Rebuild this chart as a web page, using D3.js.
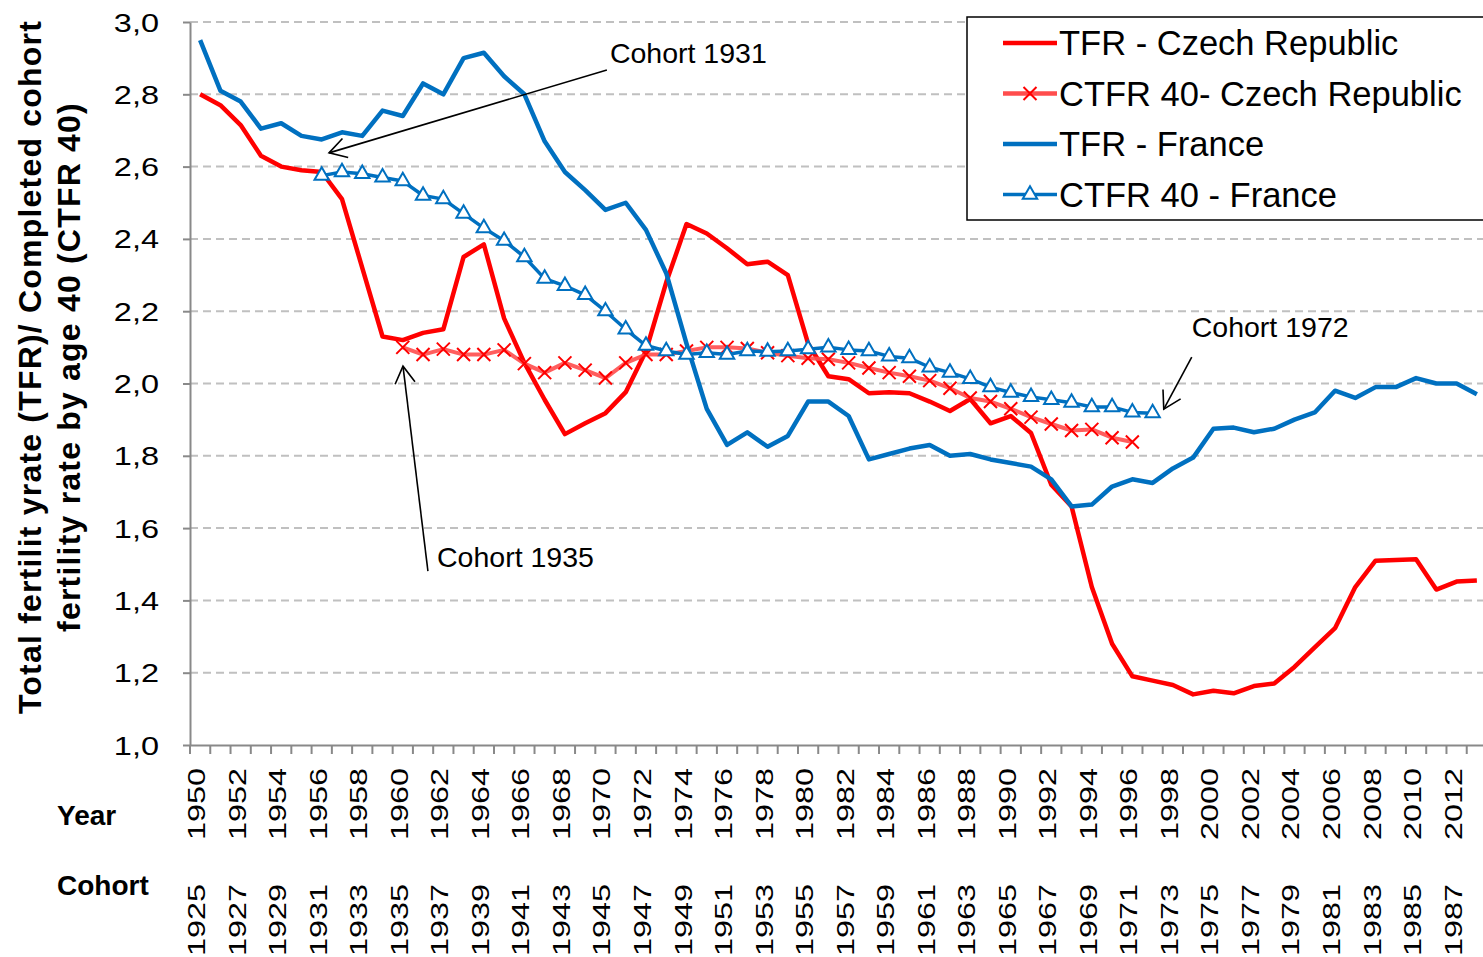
<!DOCTYPE html>
<html>
<head>
<meta charset="utf-8">
<script src="https://cdn.jsdelivr.net/npm/d3@7"></script>
<style>
body { margin: 0; background: #fff; }
text { font-family: "Liberation Sans", Arial, sans-serif; }
</style>
</head>
<body>
<svg id="chart" width="1483" height="957"></svg>
<script>
// years 1950-2013, cohorts = year - 25
var years = d3.range(1950, 2014);

var tfrCz = [2.80, 2.77, 2.715, 2.63, 2.60, 2.59, 2.585, 2.51, 2.32, 2.13,
    2.12, 2.14, 2.15, 2.35, 2.385, 2.18, 2.057, 1.955, 1.86, 1.89,
    1.918, 1.976, 2.09, 2.28, 2.441, 2.415, 2.374, 2.33, 2.337, 2.30,
    2.11, 2.02, 2.012, 1.973, 1.976, 1.973, 1.95, 1.924, 1.957, 1.89,
    1.91, 1.863, 1.72, 1.66, 1.437, 1.28, 1.19, 1.178, 1.166, 1.14,
    1.15, 1.143, 1.163, 1.17, 1.216, 1.27, 1.323, 1.437, 1.51, 1.512,
    1.514, 1.43, 1.452, 1.455];

var tfrFr = [2.95, 2.81, 2.78, 2.705, 2.72, 2.685, 2.675, 2.695, 2.685, 2.755,
    2.74, 2.83, 2.80, 2.90, 2.915, 2.85, 2.80, 2.67, 2.585, 2.535,
    2.48, 2.50, 2.425, 2.305, 2.11, 1.93, 1.83, 1.865, 1.825, 1.855,
    1.95, 1.95, 1.91, 1.79, 1.805, 1.82, 1.83, 1.80, 1.805, 1.79,
    1.78, 1.77, 1.735, 1.66, 1.665, 1.715, 1.735, 1.725, 1.765, 1.795,
    1.875, 1.878, 1.865, 1.875, 1.90, 1.92, 1.98, 1.96, 1.99, 1.99,
    2.015, 2.00, 2.00, 1.97];

// CTFR 40 by cohort, plotted at year = cohort + 25
var ctfrCzCohorts = d3.range(1935, 1972);
var ctfrCz = [2.10, 2.08, 2.095, 2.08, 2.08, 2.093, 2.055, 2.03, 2.057, 2.037,
    2.015, 2.057, 2.08, 2.08, 2.09, 2.10, 2.10, 2.097, 2.085, 2.077,
    2.07, 2.067, 2.057, 2.043, 2.03, 2.02, 2.008, 1.987, 1.96, 1.95,
    1.93, 1.907, 1.888, 1.87, 1.873, 1.85, 1.838];

var ctfrFrCohorts = d3.range(1931, 1973);
var ctfrFr = [2.575, 2.585, 2.58, 2.57, 2.56, 2.52, 2.51, 2.47, 2.43, 2.395,
    2.35, 2.29, 2.27, 2.245, 2.20, 2.15, 2.105, 2.09, 2.08, 2.085,
    2.08, 2.09, 2.088, 2.09, 2.095, 2.10, 2.093, 2.09, 2.075, 2.07,
    2.045, 2.03, 2.013, 1.99, 1.975, 1.963, 1.955, 1.947, 1.935, 1.935,
    1.92, 1.918];

var yTicks = [1.0, 1.2, 1.4, 1.6, 1.8, 2.0, 2.2, 2.4, 2.6, 2.8, 3.0];

var seriesNames = ['TFR - Czech Republic', 'CTFR 40- Czech Republic', 'TFR - France', 'CTFR 40 - France'];

// annotations: [label, text year, text value, line start year, start value, tip year, tip value]
var notes = [
    ['Cohort 1931', 1970.22, 2.887, 1970.07, 2.867, 1956.36, 2.638],
    ['Cohort 1935', 1961.69, 1.492, 1961.24, 1.481, 1960.01, 2.048],
    ['Cohort 1972', 1998.93, 2.129, 1998.93, 2.073, 1997.55, 1.929]
];

var red = '#ff0000', redLight = '#ff4d4d', blue = '#0070c0', grey = '#898989';

var svg = d3.select('#chart');

var x = d3.scaleBand().domain(years).range([190, 1487]).padding(0);
var y = d3.scaleLinear().domain([1, 3]).range([745, 22]);
var bw = x.bandwidth();
var cx = (d) => x(d) + bw / 2;
var xf = (d) => 190 + (d - 1950 + 0.5) * bw;   // fractional year, for the notes

// grid
svg.append('g')
    .selectAll('line')
    .data(yTicks.slice(1))
    .join('line')
        .attr('x1', 190).attr('x2', 1487)
        .attr('y1', (d) => y(d)).attr('y2', (d) => y(d))
        .attr('stroke', '#c0c0c0')
        .attr('stroke-width', 2)
        .attr('stroke-dasharray', '8,5');

// y axis (tick labels are drawn wide, as in the original)
var yAxis = svg.append('g')
    .attr('transform', 'translate(190,0)')
    .call(d3.axisLeft(y).tickValues(yTicks).tickSize(7).tickSizeOuter(0)
        .tickFormat((d) => d3.format('.1f')(d).replace('.', ',')));
yAxis.select('.domain').attr('stroke', grey).attr('stroke-width', 2);
yAxis.selectAll('.tick line').attr('stroke', grey).attr('stroke-width', 2);
yAxis.selectAll('.tick text')
    .attr('x', 0)
    .attr('dy', '0.36em')
    .attr('text-anchor', 'end')
    .attr('transform', 'translate(-31,0) scale(1.3,1)')
    .attr('fill', '#000')
    .style('font-size', '25px')
    .style('font-family', '"Liberation Sans", Arial, sans-serif');

// x axis: tick marks on band edges
var xAxis = svg.append('g')
    .attr('transform', 'translate(0,745)')
    .call(d3.axisBottom(x).tickSize(9).tickSizeOuter(0).tickFormat(''));
xAxis.select('.domain').attr('stroke', grey).attr('stroke-width', 2);
xAxis.selectAll('.tick line')
    .attr('stroke', grey).attr('stroke-width', 2)
    .attr('transform', 'translate(' + (-bw / 2) + ',0)');

function labelAxis(fmt, top) {
    var g = svg.append('g')
        .attr('transform', 'translate(0,745)')
        .call(d3.axisBottom(x).tickValues(years.filter((d) => d % 2 === 0)).tickSize(0).tickFormat(fmt));
    g.select('.domain').remove();
    g.selectAll('.tick text')
        .attr('transform', 'translate(5,' + top + ') rotate(-90) scale(1.35,1)')
        .attr('text-anchor', 'end')
        .attr('x', 0)
        .attr('y', 0)
        .attr('dy', 0)
        .attr('fill', '#000')
        .style('font-size', '24px')
        .style('font-family', '"Liberation Sans", Arial, sans-serif');
}
labelAxis((d) => d, 23);
labelAxis((d) => d - 25, 139);

svg.append('text').attr('x', 57).attr('y', 825).text('Year')
    .style('font-size', '28px').style('font-weight', 'bold');
svg.append('text').attr('x', 57).attr('y', 895).text('Cohort')
    .style('font-size', '28px').style('font-weight', 'bold');

// y title
[['Total fertilit yrate (TFR)/ Completed cohort', 41], ['fertility rate by age 40 (CTFR 40)', 80]].forEach((t) => {
    svg.append('text')
        .attr('transform', 'translate(' + t[1] + ',367) rotate(-90)')
        .attr('text-anchor', 'middle')
        .text(t[0])
        .style('font-size', '32px')
        .style('font-weight', 'bold')
        .style('letter-spacing', '1.2px');
});

// series
var czData = years.map((d, i) => ({year: d, value: tfrCz[i]}));
var frData = years.map((d, i) => ({year: d, value: tfrFr[i]}));
var czCt = ctfrCzCohorts.map((c, i) => ({year: c + 25, value: ctfrCz[i]}));
var frCt = ctfrFrCohorts.map((c, i) => ({year: c + 25, value: ctfrFr[i]}));

var line = d3.line().x((d) => cx(d.year)).y((d) => y(d.value));

var cross = 'M-6.5,-6.5L6.5,6.5M-6.5,6.5L6.5,-6.5';
var tri = d3.symbol(d3.symbolTriangle).size(90)();

svg.append('path').datum(czData)
    .attr('d', line).attr('fill', 'none')
    .attr('stroke', red).attr('stroke-width', 4.5).attr('stroke-linejoin', 'round');

svg.append('path').datum(czCt)
    .attr('d', line).attr('fill', 'none')
    .attr('stroke', redLight).attr('stroke-opacity', 0.9).attr('stroke-width', 4).attr('stroke-linejoin', 'round');
svg.append('g').selectAll('path')
    .data(czCt)
    .join('path')
        .attr('transform', (d) => 'translate(' + cx(d.year) + ',' + y(d.value) + ')')
        .attr('d', cross)
        .attr('stroke', red).attr('stroke-width', 2).attr('fill', 'none');

svg.append('path').datum(frData)
    .attr('d', line).attr('fill', 'none')
    .attr('stroke', blue).attr('stroke-width', 4.5).attr('stroke-linejoin', 'round');

svg.append('path').datum(frCt)
    .attr('d', line).attr('fill', 'none')
    .attr('stroke', blue).attr('stroke-width', 3.5).attr('stroke-linejoin', 'round');
svg.append('g').selectAll('path')
    .data(frCt)
    .join('path')
        .attr('transform', (d) => 'translate(' + cx(d.year) + ',' + y(d.value) + ')')
        .attr('d', tri)
        .attr('fill', '#fff').attr('stroke', blue).attr('stroke-width', 2);

// notes
svg.append('defs').append('marker')
    .attr('id', 'head')
    .attr('viewBox', '0 -11 22 22')
    .attr('refX', 20).attr('refY', 0)
    .attr('markerWidth', 22).attr('markerHeight', 22)
    .attr('markerUnits', 'userSpaceOnUse')
    .attr('orient', 'auto')
    .append('path')
        .attr('d', 'M3,-10L20,0L3,10')
        .attr('fill', 'none').attr('stroke', '#000').attr('stroke-width', 1.6);

notes.forEach((n) => {
    svg.append('line')
        .attr('x1', xf(n[3])).attr('y1', y(n[4]))
        .attr('x2', xf(n[5])).attr('y2', y(n[6]))
        .attr('stroke', '#000').attr('stroke-width', 1.6)
        .attr('marker-end', 'url(#head)');
    svg.append('text')
        .attr('x', xf(n[1])).attr('y', y(n[2]))
        .text(n[0])
        .style('font-size', '28.5px');
});

// legend
var legend = svg.append('g');
legend.append('rect')
    .attr('x', 967).attr('y', 17).attr('width', 540).attr('height', 203)
    .attr('fill', '#fff').attr('stroke', '#000').attr('stroke-width', 1.5);

var rows = legend.selectAll('g.row')
    .data(seriesNames)
    .join('g')
        .attr('class', 'row')
        .attr('transform', (d, i) => 'translate(0,' + (43 + i * 50.5) + ')');
rows.append('line')
    .attr('x1', 1003).attr('x2', 1057)
    .attr('stroke', (d, i) => i < 2 ? (i === 1 ? redLight : red) : blue)
    .attr('stroke-width', (d, i) => i === 3 ? 3.5 : 4.5);
rows.filter((d, i) => i === 1).append('path')
    .attr('transform', 'translate(1030,0)')
    .attr('d', cross).attr('stroke', red).attr('stroke-width', 2);
rows.filter((d, i) => i === 3).append('path')
    .attr('transform', 'translate(1030,0)')
    .attr('d', tri).attr('fill', '#fff').attr('stroke', blue).attr('stroke-width', 2);
rows.append('text')
    .attr('x', 1059).attr('dy', '0.35em')
    .text((d) => d)
    .style('font-size', '34.5px');
</script>
</body>
</html>
